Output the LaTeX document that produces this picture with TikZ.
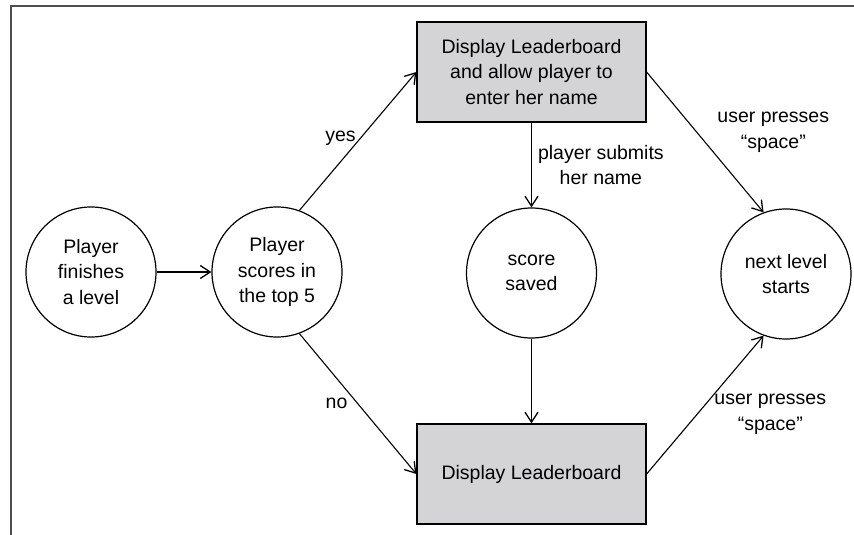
\documentclass[tikz,border=0pt]{standalone}
\usepackage{fontspec}
\setmainfont{Liberation Sans}
\usepackage{tikz}
\usetikzlibrary{arrows.meta}
\definecolor{boxgray}{RGB}{212,212,214}
\definecolor{framegray}{RGB}{78,78,78}

\begin{document}
\begin{tikzpicture}[x=1pt,y=-1pt,
	state/.style={circle,draw,line width=1.2pt,minimum size=130pt,inner sep=0pt,align=center,font=\fontsize{19.5}{25.5}\selectfont},
	screen/.style={rectangle,draw,line width=1.2pt,fill=boxgray,minimum width=229pt,minimum height=100pt,inner sep=0pt,align=center,font=\fontsize{19.5}{25.5}\selectfont},
	flow/.style={line width=1.1pt,-{Straight Barb[length=10pt,width=13pt,line width=1.3pt]}},
	lbl/.style={align=center,inner sep=0pt,font=\fontsize{19.5}{25.5}\selectfont}]
			
			\useasboundingbox (0,0) rectangle (854,535);
			\draw[framegray,line width=2pt] (11,535) -- (11,6.5) -- (854,6.5);
			
			\node[state] (finish) at (91,272) {Player\\finishes\\a level};
			\node[state] (top5) at (277,272) {Player\\scores in\\the top 5};
			\node[state] (saved) at (531.5,273) {score\\saved};
			\node[state] (next) at (786,274) {next level\\starts};
			\node[screen] (enter) at (531.5,72) {Display Leaderboard\\and allow player to\\enter her name};
			\node[screen] (board) at (531.5,474) {Display Leaderboard};
			
			\draw[flow] (finish)-- (top5);
			\draw[flow] (top5.70)-- node[lbl,left=4pt,pos=0.52]{yes} (enter.west);
			\draw[flow] (top5.-70)-- node[lbl,left=10pt,pos=0.5]{no} (board.west);
			\draw[flow] (enter)-- node[lbl,right=6pt]{player submits\\her name} (saved);
			\draw[flow] (saved)-- (board);
			\draw[flow] (enter.east)-- node[lbl,right=20pt,pos=0.43]{user presses\\“space”} (next.110);
			\draw[flow] (board.east)-- node[lbl,right=17pt,pos=0.43]{user presses\\“space”} (next.-110);
			
		\end{tikzpicture}
\end{document}
